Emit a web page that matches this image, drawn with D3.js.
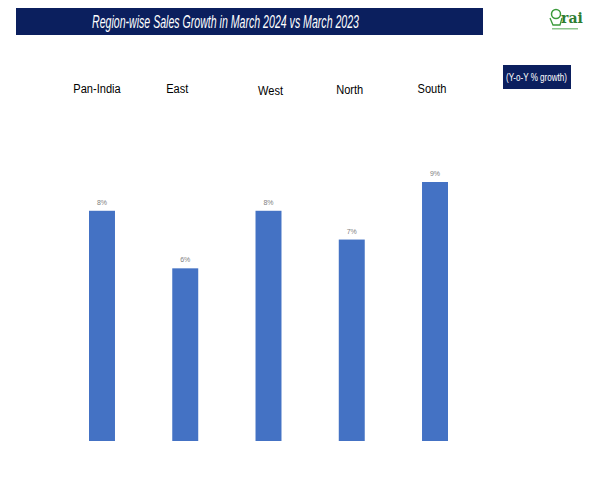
<!DOCTYPE html>
<html>
<head>
<meta charset="utf-8">
<script src="https://cdn.jsdelivr.net/npm/d3@7"></script>
<style>
  body { margin: 0; background: #fff; }
  text { font-family: "Liberation Sans", "Open Sans", sans-serif; }
</style>
</head>
<body>
<div id="chart"></div>
<script>
// chart data
const regions = ["Pan-India", "East", "West", "North", "South"];
const growth = [8, 6, 8, 7, 9];
const valueLabels = ["8%", "6%", "8%", "7%", "9%"];

const width = 600, height = 480;
const margin = { top: 182, left: 89, right: 152, bottom: 39 };
const innerWidth = width - margin.left - margin.right;
const innerHeight = height - margin.top - margin.bottom;

const svg = d3.select("#chart")
  .append("svg")
  .attr("width", width)
  .attr("height", height);

// title banner
svg.append("rect")
  .attr("x", 16).attr("y", 8)
  .attr("width", 467).attr("height", 27)
  .attr("fill", "#0b1f5e");
svg.append("text")
  .attr("x", 92).attr("y", 28)
  .attr("fill", "#fff")
  .style("font-size", "17.5px")
  .style("font-style", "italic")
  .attr("textLength", 267)
  .attr("lengthAdjust", "spacingAndGlyphs")
  .text("Region-wise Sales Growth in March 2024 vs March 2023");

// units box
svg.append("rect")
  .attr("x", 503).attr("y", 65)
  .attr("width", 68).attr("height", 24)
  .attr("fill", "#0b1f5e");
svg.append("text")
  .attr("x", 506).attr("y", 81)
  .attr("fill", "#fff")
  .style("font-size", "10px")
  .attr("textLength", 61)
  .attr("lengthAdjust", "spacingAndGlyphs")
  .text("(Y-o-Y % growth)");

// logo
const logo = svg.append("g").attr("transform", "translate(549,6)");
logo.append("circle").attr("cx", 7).attr("cy", 8).attr("r", 4.5)
  .attr("fill", "none").attr("stroke", "#3a9a3a").attr("stroke-width", 1.5);
logo.append("path").attr("d", "M1,12 L4,19 L11,19 L13,12")
  .attr("fill", "none").attr("stroke", "#3a9a3a").attr("stroke-width", 1.3);
logo.append("text").attr("x", 12).attr("y", 17)
  .attr("fill", "#2e7d32")
  .style("font-family", "DejaVu Serif, serif")
  .style("font-size", "14px").style("font-weight", "bold")
  .text("rai");
logo.append("rect").attr("x", 3).attr("y", 22).attr("width", 26).attr("height", 1.5)
  .attr("fill", "#8cc68c");

const x = d3.scaleBand()
  .domain(regions)
  .range([0, innerWidth])
  .paddingInner(0.688)
  .paddingOuter(0);

const y = d3.scaleLinear()
  .domain([0, 9])
  .range([innerHeight, 0]);

const g = svg.append("g")
  .attr("transform", `translate(${margin.left},${margin.top})`);

g.selectAll("rect.bar")
  .data(regions)
  .enter()
  .append("rect")
  .attr("class", "bar")
  .attr("x", d => x(d))
  .attr("y", (d, i) => y(growth[i]))
  .attr("width", x.bandwidth())
  .attr("height", (d, i) => innerHeight - y(growth[i]))
  .attr("fill", "#4472c4");

g.selectAll("text.val")
  .data(regions)
  .enter()
  .append("text")
  .attr("class", "val")
  .attr("x", d => x(d) + x.bandwidth() / 2)
  .attr("y", (d, i) => y(growth[i]) - 6)
  .attr("text-anchor", "middle")
  .attr("fill", "#808080")
  .style("font-size", "7px")
  .text((d, i) => valueLabels[i]);

// region names across the top, slightly condensed like the original
const labelDx = [-5, -8, 2, -2, -3];
const labelDy = [0, 0, 2, 1, 0];
g.selectAll("text.cat")
  .data(regions)
  .enter()
  .append("text")
  .attr("class", "cat")
  .attr("transform", (d, i) =>
    `translate(${x(d) + x.bandwidth() / 2 + labelDx[i]},${93 - margin.top + labelDy[i]}) scale(0.82,1)`)
  .attr("text-anchor", "middle")
  .attr("fill", "#000")
  .style("font-size", "13.5px")
  .text(d => d);
</script>
</body>
</html>
